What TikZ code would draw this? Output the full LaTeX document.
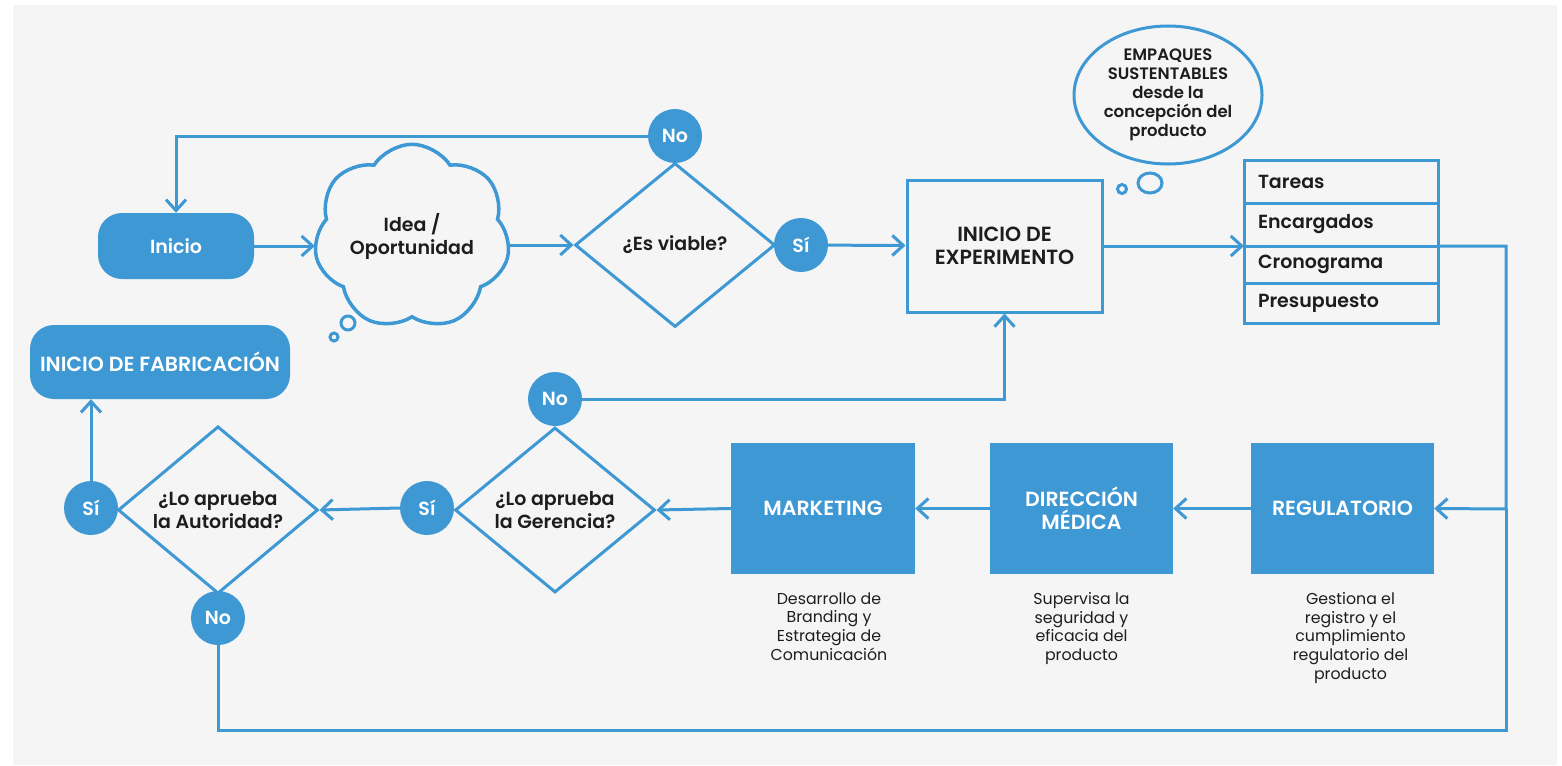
\documentclass[tikz,border=0pt]{standalone}
\usepackage{fontspec}
\setmainfont{Poppins}[BoldFont={Poppins SemiBold}]
\usepackage{tikz}
\usetikzlibrary{arrows.meta,shapes,positioning,calc}
\definecolor{azul}{HTML}{3D98D4}
\definecolor{fondo}{HTML}{F5F5F5}
\definecolor{tinta}{HTML}{1D1D1B}
\newcommand{\etiq}{\fontsize{19}{23}\selectfont}
\newcommand{\mayus}{\fontsize{20.5}{23}\selectfont}
\newcommand{\nube}{\fontsize{16.5}{19}\selectfont}
\newcommand{\texto}{\fontsize{15.8}{18.7}\selectfont}

\begin{document}
\begin{tikzpicture}[
    x=1pt, y=-1pt,
    % --- líneas ---
    linea/.style={draw=azul, line width=3pt},
    flecha/.style={linea, -{Straight Barb[length=11pt, width=20pt]}},
    % --- nodos ---
    % caja redondeada azul
    redondo/.style={
        rectangle,
        rounded corners=24pt,
        fill=azul,
        text=white
    },
    % caja azul de área
    caja/.style={
        rectangle,
        fill=azul,
        text=white,
        minimum width=183pt,
        minimum height=131pt,
        align=center,
        font=\mayus\bfseries
    },
    % rombo de decisión
    rombo/.style={
        diamond,
        linea,
        minimum width=200pt,
        minimum height=164pt,
        inner sep=0pt,
        align=center,
        text=tinta,
        font=\etiq\bfseries
    },
    % círculo Sí / No
    resp/.style={
        circle,
        fill=azul,
        text=white,
        minimum size=54pt,
        inner sep=0pt,
        font=\etiq\bfseries
    },
    % fila de la tabla
    fila/.style={
        rectangle,
        linea,
        outer sep=0pt,
        text width=166pt,
        inner xsep=14pt,
        align=left,
        text=tinta,
        font=\etiq\bfseries
    },
    % texto bajo las cajas
    nota/.style={
        inner sep=0pt,
        align=center,
        text=tinta,
        font=\texto
    }
]

% --- fondo ---
\useasboundingbox (0,0) rectangle (1562,765);
\fill[fondo] (13,5) rectangle (1557,765);

% --- fila superior ---
\node[redondo, minimum width=156pt, minimum height=66pt, font=\etiq\bfseries] (inicio) at (176,246) {Inicio};
\node[cloud, cloud puffs=7, cloud puff arc=115, aspect=1.1, inner sep=0pt, linea, line width=3.5pt,
      minimum width=195pt, minimum height=176pt,
      align=center, text=tinta, font=\etiq\bfseries] (idea) at (412,237) {Idea /\\Oportunidad};
\node[rombo] (viable) at (675,245) {¿Es viable?};
\node[resp] (no1) at (675,136) {No};
\node[resp] (si1) at (801,245) {Sí};
\node[rectangle, linea, minimum width=195pt, minimum height=132pt, align=center,
      text=tinta, font=\mayus\bfseries] (exper) at (1004.5,246) {INICIO DE\\EXPERIMENTO};
\node[ellipse, linea, minimum width=188pt, minimum height=138pt, inner sep=0pt, align=center,
      text=tinta, font=\nube\bfseries] (empaque) at (1168,95)
      {EMPAQUES\\SUSTENTABLES\\desde la\\concepción del\\producto};

% tabla
\node[fila, minimum height=43pt] (tar) at (1341,181.5) {Tareas};
\node[fila, minimum height=43pt, below=0pt of tar] (enc) {Encargados};
\node[fila, minimum height=37pt, below=0pt of enc] (cro) {Cronograma};
\node[fila, minimum height=40pt, below=0pt of cro] (pre) {Presupuesto};

% --- fila inferior ---
\node[redondo, minimum width=260pt, minimum height=74pt, font=\mayus\bfseries] (fabric) at (160,362) {INICIO DE FABRICACIÓN};
\node[rombo, minimum height=162pt] (autor) at (218,510) {¿Lo aprueba\\la Autoridad?};
\node[resp] (si2) at (91,508) {Sí};
\node[resp] (no2) at (218,618) {No};
\node[rombo, minimum height=165pt] (geren) at (555,510) {¿Lo aprueba\\la Gerencia?};
\node[resp] (si3) at (427,508) {Sí};
\node[resp] (no3) at (555,399) {No};
\node[caja, minimum width=184pt] (mkt) at (823,508.5) {MARKETING};
\node[caja] (dir) at (1081.5,508.5) {DIRECCIÓN\\MÉDICA};
\node[caja] (reg) at (1342.5,508.5) {REGULATORIO};

\node[nota, below=18pt of mkt, xshift=6pt] (dmkt) {Desarrollo de\\Branding y\\Estrategia de\\Comunicación};
\node[nota, below=18pt of dir] (ddir) {Supervisa la\\seguridad y\\eficacia del\\producto};
\node[nota, below=18pt of reg, xshift=8pt] (dreg) {Gestiona el\\registro y el\\cumplimiento\\regulatorio del\\producto};

% burbujas
\draw[linea] (348,323) circle[radius=7pt];
\draw[linea] (334,337) circle[radius=4pt];
\draw[linea] (1150,183) ellipse[x radius=12pt, y radius=10pt];
\draw[linea] (1122,189) circle[radius=4.5pt];

% --- conectores ---
\coordinate (derecha) at (1506,509);
\coordinate (abajo) at (1506,730);

\draw[flecha] (inicio.east) -- (inicio.east -| idea.west);
\draw[flecha] (idea.east |- viable.west) -- (viable.west);
\draw[flecha] (no1.west) -| (inicio.north);
\draw[flecha] (si1) -- (exper);
\draw[flecha] (exper.east) -- (enc.south west);
\draw[flecha] (enc.south east) -| (derecha) -- (reg.east);
\draw[linea] (no2.south) |- (abajo) -- (derecha);
\draw[flecha] (reg) -- (dir);
\draw[flecha] (dir) -- (mkt);
\draw[flecha] (mkt.west) -- (geren.east);
\draw[flecha] (no3.east) -| (exper.south);
\draw[flecha] (si3.west) -- (autor.east);
\draw[flecha] (si2.north) -- (si2.north |- fabric.south);

\end{tikzpicture}
\end{document}
